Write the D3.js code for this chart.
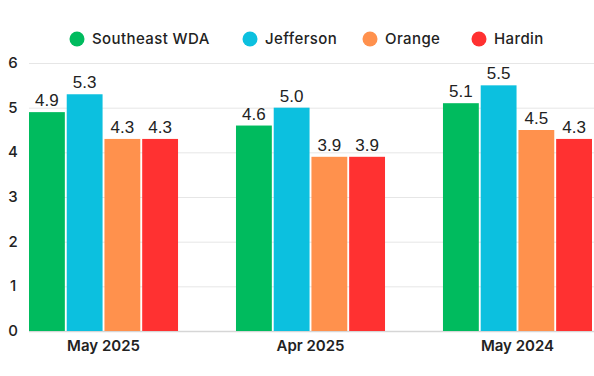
<!DOCTYPE html>
<html>

<head>
  <title>Grouped Bars</title>

  <style>
    body,
    html {
      margin: 0;
      padding: 0;
      background: #fff;
    }

    svg text {
      font-family: Inter, "Open Sans", sans-serif;
    }
  </style>
</head>

<body>

  <svg id="svg" width="594" height="376"></svg>

  <script src="https://d3js.org/d3.v7.min.js"></script>
  <script>
    const categories = ["May 2025", "Apr 2025", "May 2024"]
    const seriesNames = ["Southeast WDA", "Jefferson", "Orange", "Hardin"]
    const southeast = [4.9, 4.6, 5.1]
    const jefferson = [5.3, 5.0, 5.5]
    const orange = [4.3, 3.9, 4.5]
    const hardin = [4.3, 3.9, 4.3]
    const yTicks = [0, 1, 2, 3, 4, 5, 6]
    const colors = ["#00bb5e", "#0cc0df", "#ff914d", "#ff3131"]

    const seriesValues = [southeast, jefferson, orange, hardin]
    const rows = categories.map((c, i) => ({
      cat: c,
      vals: seriesNames.map((s, j) => ({ name: s, value: seriesValues[j][i], color: colors[j] }))
    }))

    const svg = d3.select("#svg")
    const plotLeft = 29
    const plotRight = 592
    const plotTop = 63
    const plotBottom = 331

    const x0 = d3.scaleBand()
      .domain(categories)
      .range([plotLeft, plotRight])
      .paddingInner(0.28)
      .paddingOuter(0)

    const x1 = d3.scaleBand()
      .domain(seriesNames)
      .range([0, x0.bandwidth()])
      .paddingInner(0.05)

    const y = d3.scaleLinear()
      .domain([0, 6])
      .range([plotBottom, plotTop])

    // grid
    svg.append("g")
      .selectAll("line")
      .data(yTicks)
      .enter()
      .append("line")
      .attr("x1", plotLeft)
      .attr("x2", 594)
      .attr("y1", d => y(d) + 0.5)
      .attr("y2", d => y(d) + 0.5)
      .attr("stroke", d => d === 0 ? "#d6d6d6" : "#e6e6e6")
      .attr("stroke-width", d => d === 0 ? 1.5 : 1)

    // y labels
    svg.append("g")
      .selectAll("text")
      .data(yTicks)
      .enter()
      .append("text")
      .attr("x", 13)
      .attr("y", d => y(d) + 5)
      .attr("text-anchor", "middle")
      .attr("font-size", 15)
      .attr("font-weight", 500)
      .attr("fill", "#222")
      .text(d => d)

    const groups = svg.append("g")
      .selectAll("g")
      .data(rows)
      .enter()
      .append("g")
      .attr("transform", d => `translate(${x0(d.cat)},0)`)

    groups.selectAll("rect")
      .data(d => d.vals)
      .enter()
      .append("rect")
      .attr("x", d => x1(d.name))
      .attr("y", d => y(d.value))
      .attr("width", x1.bandwidth())
      .attr("height", d => y(0) - y(d.value))
      .attr("fill", d => d.color)

    groups.selectAll("text")
      .data(d => d.vals)
      .enter()
      .append("text")
      .attr("x", d => x1(d.name) + x1.bandwidth() / 2)
      .attr("y", d => y(d.value) - 6)
      .attr("text-anchor", "middle")
      .attr("font-size", 17)
      .style("font-family", "'Liberation Sans', Arial, sans-serif")
      .attr("fill", "#222")
      .text(d => d.value.toFixed(1))

    // category labels
    svg.append("g")
      .selectAll("text")
      .data(categories)
      .enter()
      .append("text")
      .attr("x", d => x0(d) + x0.bandwidth() / 2)
      .attr("y", 351)
      .attr("text-anchor", "middle")
      .attr("font-size", 15)
      .attr("font-weight", 600)
      .attr("fill", "#222")
      .text(d => d)

    // legend
    const legendX = [77, 250, 370, 479]
    const legend = svg.append("g")
      .selectAll("g")
      .data(seriesNames)
      .enter()
      .append("g")
      .attr("transform", (d, i) => `translate(${legendX[i]},39)`)

    legend.append("circle")
      .attr("r", 7.5)
      .attr("fill", (d, i) => colors[i])

    legend.append("text")
      .attr("x", 15)
      .attr("y", 5)
      .attr("font-size", 15)
      .attr("font-weight", 500)
      .attr("letter-spacing", 0.4)
      .attr("fill", "#222")
      .text(d => d)
  </script>
</body>

</html>
